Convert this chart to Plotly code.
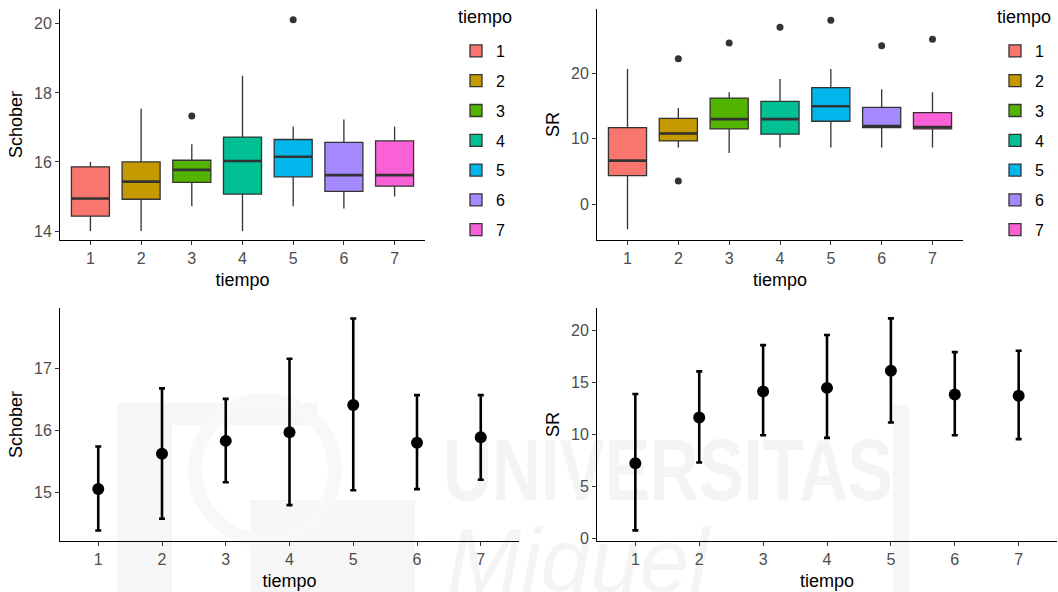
import base64
import plotly.graph_objects as go

tiempo = [1, 2, 3, 4, 5, 6, 7]
tick_labels = ["1", "2", "3", "4", "5", "6", "7"]
colors = ["#F8766D", "#C49A00", "#53B400", "#00C094", "#00B6EB", "#A58AFF", "#FB61D7"]

# Boxplot stats: Schober
sch_low = [14.0, 14.0, 14.72, 14.0, 14.72, 14.65, 15.0]
sch_q1 = [14.43, 14.92, 15.41, 15.07, 15.57, 15.15, 15.3]
sch_med = [14.94, 15.43, 15.77, 16.03, 16.15, 15.62, 15.62]
sch_q3 = [15.86, 16.0, 16.05, 16.72, 16.65, 16.57, 16.61]
sch_up = [16.0, 17.54, 16.51, 18.5, 17.03, 17.23, 17.03]
sch_out_x = [3, 5]
sch_out_y = [17.33, 20.12]

# Boxplot stats: SR
sr_low = [-3.8, 8.65, 7.83, 8.65, 8.65, 8.65, 8.65]
sr_q1 = [4.37, 9.67, 11.5, 10.7, 12.67, 11.7, 11.5]
sr_med = [6.66, 10.8, 13.0, 13.0, 14.96, 11.95, 11.8]
sr_q3 = [11.7, 13.1, 16.2, 15.7, 17.8, 14.8, 14.0]
sr_up = [20.66, 14.7, 17.1, 19.1, 20.66, 17.56, 17.1]
sr_out_x = [2, 2, 3, 4, 5, 6, 7]
sr_out_y = [22.2, 3.56, 24.6, 27.0, 28.1, 24.2, 25.2]

# Mean with error bars
sch_mean = [15.05, 15.62, 15.83, 15.97, 16.41, 15.80, 15.89]
sch_lo = [14.38, 14.57, 15.16, 14.79, 15.03, 15.05, 15.20]
sch_hi = [15.74, 16.68, 16.51, 17.16, 17.81, 16.57, 16.57]

sr_mean = [7.22, 11.63, 14.14, 14.49, 16.14, 13.86, 13.72]
sr_lo = [0.74, 7.28, 9.92, 9.66, 11.15, 9.92, 9.54]
sr_hi = [13.9, 16.08, 18.62, 19.6, 21.2, 17.94, 18.07]

BOXW = 0.75
fig = go.Figure()

def add_boxes(xa, ya, low, q1, med, q3, up, ox, oy, legend):
    for i, t in enumerate(tiempo):
        fig.add_trace(go.Box(
            x=[t], q1=[q1[i]], median=[med[i]], q3=[q3[i]],
            lowerfence=[low[i]], upperfence=[up[i]],
            width=BOXW, whiskerwidth=0, fillcolor=colors[i],
            line=dict(color="#333333", width=1.3),
            name=str(t), legend=legend, legendgroup=legend + str(t),
            xaxis=xa, yaxis=ya, boxpoints=False, hoverinfo="skip"))
    mx, my = [], []
    for i, t in enumerate(tiempo):
        mx += [t - BOXW / 2, t + BOXW / 2, None]
        my += [med[i], med[i], None]
    fig.add_trace(go.Scatter(x=mx, y=my, mode="lines", line=dict(color="#333333", width=2.6),
                             showlegend=False, xaxis=xa, yaxis=ya, hoverinfo="skip"))
    fig.add_trace(go.Scatter(x=ox, y=oy, mode="markers", marker=dict(color="#333333", size=7),
                             showlegend=False, xaxis=xa, yaxis=ya, hoverinfo="skip"))

add_boxes("x", "y", sch_low, sch_q1, sch_med, sch_q3, sch_up, sch_out_x, sch_out_y, "legend")
add_boxes("x2", "y2", sr_low, sr_q1, sr_med, sr_q3, sr_up, sr_out_x, sr_out_y, "legend2")

def add_means(xa, ya, mean, lo, hi):
    fig.add_trace(go.Scatter(
        x=tiempo, y=mean, mode="markers",
        marker=dict(color="black", size=12),
        error_y=dict(type="data", symmetric=False,
                     array=[h - m for h, m in zip(hi, mean)],
                     arrayminus=[m - l for m, l in zip(mean, lo)],
                     color="black", thickness=2.6, width=3),
        showlegend=False, xaxis=xa, yaxis=ya, hoverinfo="skip"))

add_means("x3", "y3", sch_mean, sch_lo, sch_hi)
add_means("x4", "y4", sr_mean, sr_lo, sr_hi)

FONT = "Liberation Sans, Arial, sans-serif"
W, H = 1058, 592

def xax(d0, d1, anchor):
    return dict(domain=[d0 / W, d1 / W], range=[0.4, 7.6], tickvals=tiempo, ticktext=tick_labels,
                showline=True, linecolor="black", linewidth=1, ticks="outside", ticklen=4,
                tickcolor="#333333", tickwidth=1, showgrid=False, zeroline=False,
                tickfont=dict(size=16, color="#4D4D4D", family=FONT), automargin=False,
                title=dict(text="tiempo", font=dict(size=18, color="black", family=FONT), standoff=7),
                anchor=anchor, fixedrange=True)

def yax(top, bot, rng, tv, title, anchor):
    return dict(domain=[1 - bot / H, 1 - top / H], range=rng, tickvals=tv,
                showline=True, linecolor="black", linewidth=1, ticks="outside", ticklen=4,
                tickcolor="#333333", tickwidth=1, showgrid=False, zeroline=False,
                tickfont=dict(size=16, color="#4D4D4D", family=FONT), automargin=False,
                title=dict(text=title, font=dict(size=18, color="black", family=FONT), standoff=6),
                anchor=anchor, fixedrange=True)

svg = f'''<svg xmlns="http://www.w3.org/2000/svg" width="{W}" height="{H}" viewBox="0 0 {W} {H}">
<g fill="#f4f4f4">
<rect x="117" y="403" width="200" height="22" fill="#f6f6f6"/>
<rect x="117" y="403" width="55" height="189" fill="#f6f6f6"/>
<rect x="250" y="500" width="165" height="92" fill="#f6f6f6"/>
<circle cx="265" cy="470" r="70" fill="none" stroke="#f8f8f8" stroke-width="14"/>
<rect x="893" y="405" width="16" height="187" fill="#f6f6f6"/>
<text x="443" y="500" font-family="Liberation Sans, Arial" font-weight="bold" font-size="88" textLength="450" lengthAdjust="spacingAndGlyphs">UNIVERSITAS</text>
<text x="447" y="592" font-family="Liberation Sans, Arial" font-style="italic" font-size="90" textLength="262" lengthAdjust="spacingAndGlyphs">Miguel</text>
</g></svg>'''
src = "data:image/svg+xml;base64," + base64.b64encode(svg.encode()).decode()

legend_common = dict(
    font=dict(size=16, color="black", family=FONT),
    tracegroupgap=6, bgcolor="rgba(0,0,0,0)", xanchor="left", yanchor="top", y=1 - 34 / H,
    itemclick=False, itemdoubleclick=False)

title_font = dict(size=18, color="black", family=FONT)
annotations = [
    dict(text="tiempo", x=456 / W, y=1 - 17 / H, xref="paper", yref="paper",
         xanchor="left", yanchor="middle", showarrow=False, font=title_font),
    dict(text="tiempo", x=995 / W, y=1 - 17 / H, xref="paper", yref="paper",
         xanchor="left", yanchor="middle", showarrow=False, font=title_font),
]

fig.update_layout(
    width=W, height=H, margin=dict(l=0, r=0, t=0, b=0, autoexpand=False),
    paper_bgcolor="white", plot_bgcolor="rgba(0,0,0,0)",
    font=dict(family=FONT),
    xaxis=xax(60, 425, "y"), yaxis=yax(9, 240, [13.74, 20.43], [14, 16, 18, 20], "Schober", "x"),
    xaxis2=xax(597, 963, "y2"), yaxis2=yax(9, 240, [-5.45, 29.8], [0, 10, 20], "SR", "x2"),
    xaxis3=xax(60, 519, "y3"), yaxis3=yax(308, 541, [14.21, 17.98], [15, 16, 17], "Schober", "x3"),
    xaxis4=xax(597, 1057, "y4"), yaxis4=yax(308, 541, [-0.29, 22.2], [0, 5, 10, 15, 20], "SR", "x4"),
    legend=dict(x=456 / W, **legend_common),
    legend2=dict(x=995 / W, **legend_common),
    annotations=annotations,
    images=[dict(source=src, xref="paper", yref="paper", x=0, y=1, sizex=1, sizey=1,
                 sizing="stretch", xanchor="left", yanchor="top", layer="below")],
    showlegend=True,
)

fig.write_html("out.html", config={"displayModeBar": False, "staticPlot": True},
               post_script="document.body.style.margin='0';document.body.style.overflow='hidden';")
